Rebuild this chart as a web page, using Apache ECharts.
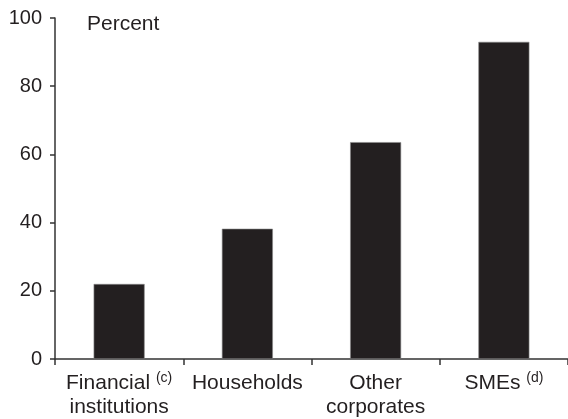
<!DOCTYPE html>
<html>
<head>
<meta charset="utf-8">
<script src="https://cdn.jsdelivr.net/npm/echarts@6/dist/echarts.min.js"></script>
<style>
  html, body { margin: 0; padding: 0; background: #ffffff; }
  #chart { width: 568px; height: 419px; }
</style>
</head>
<body>
<div id="chart"></div>
<script>
const categories = ['Financial institutions', 'Households', 'Other corporates', 'SMEs'];
const categoryLabels = ['Financial {sup|(c)}\ninstitutions', 'Households', 'Other\ncorporates', 'SMEs {sup|(d)}'];
const values = [22, 38.2, 63.6, 93];
const unitLabel = 'Percent';

const FONT = '"Liberation Sans", Arial, Helvetica, sans-serif';
const INK = '#231f20';

const chart = echarts.init(document.getElementById('chart'), null, { renderer: 'canvas' });
chart.setOption({
  animation: false,
  backgroundColor: '#ffffff',
  grid: { left: 55, right: -3, top: 18, bottom: 60, containLabel: false },
  graphic: [{
    type: 'text',
    left: 87,
    top: 14,
    style: { text: unitLabel, font: '21px ' + FONT, fill: INK }
  }],
  xAxis: {
    type: 'category',
    data: categories,
    boundaryGap: true,
    axisLine: { show: true, lineStyle: { color: '#333', width: 1.5 } },
    axisTick: { show: true, length: 6, lineStyle: { color: '#333', width: 1.5 } },
    axisLabel: {
      interval: 0,
      margin: 12,
      color: INK,
      fontFamily: FONT,
      fontSize: 21,
      lineHeight: 24,
      formatter: function (v, i) { return categoryLabels[i]; },
      rich: {
        sup: { fontSize: 14, fontFamily: FONT, color: INK, lineHeight: 1, verticalAlign: 'top' }
      }
    },
    splitLine: { show: false }
  },
  yAxis: {
    type: 'value',
    min: 0,
    max: 100,
    interval: 20,
    axisLine: { show: true, lineStyle: { color: '#333', width: 1.5 } },
    axisTick: { show: true, length: 5, lineStyle: { color: '#333', width: 1.5 } },
    axisLabel: { margin: 13, color: INK, fontFamily: FONT, fontSize: 20 },
    splitLine: { show: false }
  },
  series: [{
    type: 'bar',
    data: values,
    barWidth: 51,
    itemStyle: { color: INK, borderColor: '#8a8a8a', borderWidth: 0.6 }
  }]
});
</script>
</body>
</html>
